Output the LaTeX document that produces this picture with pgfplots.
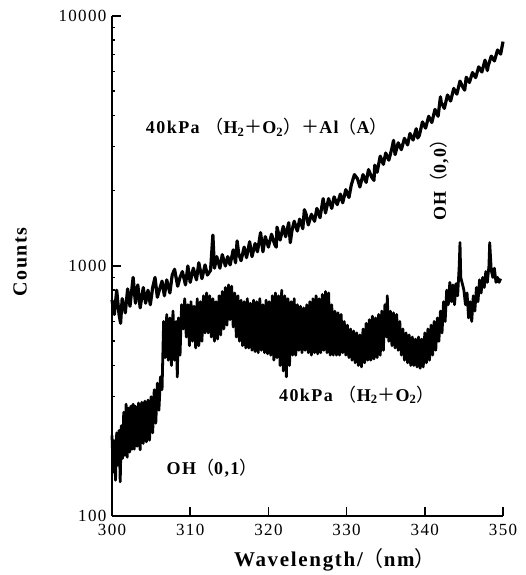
\documentclass[border=0pt]{standalone}
\usepackage{fontspec}
\setmainfont{Liberation Serif}
\newfontfamily\lab[LetterSpace=8]{Liberation Serif}
\newfontfamily\cjk{Noto Sans CJK SC}
\newcommand{\fl}{{\cjk\mdseries （}}
\newcommand{\fr}{{\cjk\mdseries ）}}
\newcommand{\fp}{{\cjk\mdseries ＋}}
\usepackage{pgfplots}
\pgfplotsset{compat=1.18}
\begin{document}
\begin{tikzpicture}[x=1pt,y=1pt]
\useasboundingbox (0,0) rectangle (525,575);
\begin{axis}[
  at={(112pt,59pt)}, anchor=south west,
  scale only axis, width=391pt, height=500pt,
  xmin=300, xmax=350, ymode=log, ymin=100, ymax=10000,
  axis lines*=left, axis line style={line width=1.8pt},
  tick style={line width=1.5pt, black},
  tick align=inside, major tick length=9pt,
  xtick={300,310,...,350}, ytick={100,1000,10000},
  yticklabels={100,1000,10000},
  minor tick num=0, minor ytick={},
  /pgf/number format/assume math mode=true,
  ticklabel style={font=\lab\fontsize{17}{20}\selectfont},
  xticklabel style={yshift=-5pt},
  yticklabel style={xshift=-2pt},
  clip=false,
]
\addplot[black, line width=3.2pt, line join=round] coordinates {
(300.0,731)(300.3,640)(300.6,800)(300.9,640)(301.1,590)(301.3,740)(301.7,650)(302.0,810)(302.3,690)(302.7,900)(303.0,710)
(303.3,840)(303.6,680)(304.0,820)(304.3,710)(304.6,800)(304.9,700)(305.2,820)(305.5,900)(305.8,750)(306.1,810)
(306.4,870)(306.7,760)(307.0,880)(307.4,780)(307.7,920)(308.0,970)(308.4,830)(308.7,900)(309.0,950)(309.4,840)
(309.7,1000)(310.0,860)(310.4,980)(310.8,880)(311.1,1030)(311.5,890)(311.9,1010)(312.2,920)(312.6,960)(312.9,1330)
(313.1,980)(313.4,1090)(313.8,980)(314.1,1110)(314.5,1000)(314.8,1090)(315.1,1010)(315.5,1160)(315.8,1030)(316.0,1260)(316.2,1120)
(316.5,1050)(316.9,1190)(317.2,1080)(317.6,1250)(317.9,1090)(318.3,1230)(318.6,1140)(319.0,1360)(319.3,1140)(319.6,1310)
(320.0,1190)(320.4,1340)(320.8,1220)(321.0,1190)(321.1,1430)(321.5,1270)(321.9,1440)(322.2,1310)(322.6,1490)(322.8,1240)(323.0,1380)(323.3,1510)
(323.7,1380)(324.0,1540)(324.4,1410)(324.6,1680)(324.8,1620)(325.1,1460)(325.5,1610)(325.9,1510)(326.2,1700)(326.6,1560)(327.0,1860)
(327.3,1630)(327.7,1860)(328.1,1700)(328.4,1890)(328.8,1760)(329.2,1940)(329.5,1790)(329.9,2020)(330.3,1880)(330.6,2110)
(331.0,2320)(331.4,2230)(331.7,2070)(332.1,2320)(332.5,2160)(332.8,2430)(333.2,2270)(333.5,2200)(333.6,2530)(333.9,2370)(334.3,2750)
(334.7,2550)(335.0,2830)(335.4,2650)(335.8,2960)(336.0,3180)(336.2,2790)(336.6,3110)(337.0,2920)(337.4,3240)(337.8,3050)(338.1,3390)
(338.5,3190)(338.9,3540)(339.1,3250)(339.3,3330)(339.7,3770)(340.1,3560)(340.5,3970)(340.9,3750)(341.3,4230)(341.7,3970)(342.0,4750)(342.1,4510)
(342.5,4270)(342.9,4830)(343.3,4570)(343.7,5130)(344.1,4870)(344.5,5490)(344.9,5170)(345.1,5050)(345.3,5690)(345.7,5420)(346.1,5940)
(346.5,5670)(346.9,6260)(347.3,5970)(347.7,6660)(348.0,6050)(348.1,6310)(348.5,6910)(348.9,6610)(349.3,7310)(349.7,7040)(350.0,7900)
};
\addplot[black, line width=2.8pt, line join=round] coordinates {
(300.0,210)(300.15,150)(300.3,200)(300.45,139)(300.6,215)(300.75,160)(300.9,220)(301.05,137)(301.2,230)(301.35,170)
(301.5,260)(301.65,175)(301.8,280)(301.95,172)(302.1,270)(302.25,180)(302.4,275)(302.55,185)(302.7,280)(302.85,185)
(303.0,275)(303.2,190)(303.4,283)(303.6,184)(303.8,285)(304.0,195)(304.2,288)(304.4,198)(304.6,291)(304.8,201)
(305.0,300)(305.2,215)(305.4,320)(305.6,235)(305.8,340)(306.0,265)(306.2,360)(306.4,320)(306.6,600)(306.8,430)
(307.0,640)(307.2,420)(307.4,620)(307.6,400)(307.8,660)(308.0,420)(308.2,600)(308.35,360)(308.5,620)(308.7,440)
(308.9,700)(309.1,560)(309.3,740)(309.5,520)(309.7,700)(309.9,480)(310.1,720)(310.3,500)(310.5,690)(310.7,470)
(310.9,740)(311.1,480)(311.3,720)(311.5,500)(311.7,760)(311.9,540)(312.1,780)(312.3,540)(312.5,760)(312.7,520)
(312.9,740)(313.1,500)(313.3,720)(313.5,510)(313.7,760)(313.9,530)(314.1,790)(314.3,560)(314.5,820)(314.7,580)
(314.9,840)(315.1,610)(315.3,830)(315.5,570)(315.7,780)(315.9,520)(316.1,760)(316.3,500)(316.5,730)(316.7,480)
(316.9,720)(317.1,470)(317.3,740)(317.5,470)(317.7,710)(317.9,460)(318.1,730)(318.3,455)(318.5,720)(318.7,450)
(318.9,740)(319.1,460)(319.3,700)(319.5,450)(319.7,730)(319.9,445)(320.1,720)(320.3,440)(320.5,760)(320.7,420)
(320.9,780)(321.1,430)(321.3,760)(321.5,400)(321.7,800)(321.9,380)(322.1,760)(322.3,360)(322.5,740)(322.7,400)
(322.9,720)(323.1,440)(323.3,740)(323.5,440)(323.7,700)(323.9,460)(324.1,690)(324.3,450)(324.5,680)(324.7,460)
(324.9,700)(325.1,450)(325.3,720)(325.5,440)(325.7,740)(325.9,450)(326.1,760)(326.3,445)(326.5,740)(326.7,450)
(326.9,770)(327.1,460)(327.3,790)(327.5,450)(327.7,780)(327.9,440)(328.1,700)(328.3,440)(328.5,660)(328.7,440)
(328.9,650)(329.1,440)(329.3,640)(329.5,450)(329.7,600)(329.9,440)(330.1,580)(330.3,430)(330.5,560)(330.7,420)
(330.9,550)(331.1,410)(331.3,540)(331.5,400)(331.7,530)(331.9,395)(332.1,560)(332.3,410)(332.5,590)(332.7,420)
(332.9,610)(333.1,420)(333.3,630)(333.5,425)(333.7,620)(333.9,430)(334.1,640)(334.3,440)(334.5,660)(334.7,460)
(334.9,700)(335.1,520)(335.2,760)(335.4,500)(335.6,660)(335.8,480)(336.0,650)(336.2,470)(336.4,640)(336.6,460)
(336.8,600)(337.0,440)(337.2,560)(337.4,420)(337.6,540)(337.8,410)(338.0,530)(338.2,400)(338.4,520)(338.6,400)
(338.8,510)(339.0,395)(339.2,520)(339.4,390)(339.6,510)(339.8,395)(340.0,540)(340.2,410)(340.4,560)(340.6,420)
(340.8,580)(341.0,440)(341.2,600)(341.4,460)(341.6,620)(341.8,500)(342.0,660)(342.2,540)(342.4,720)(342.6,600)
(342.8,800)(343.0,700)(343.2,860)(343.4,720)(343.6,840)(343.8,700)(344.0,850)(344.2,760)(344.4,1000)(344.5,1240)
(344.6,900)(344.8,850)(345.0,800)(345.2,700)(345.4,780)(345.6,620)(345.8,720)(346.0,600)(346.2,760)(346.4,660)
(346.6,820)(346.8,720)(347.0,880)(347.2,780)(347.4,900)(347.6,820)(347.8,950)(348.0,860)(348.2,1000)(348.3,1240)
(348.5,960)(348.7,900)(348.9,980)(349.1,860)(349.3,900)(349.5,860)(349.7,890)
};
\node[font=\lab\bfseries\fontsize{18}{18}\selectfont] at (axis cs:319.8,3597) {40kPa \fl H\textsubscript{2}\fp O\textsubscript{2}\fr\fp Al\fl A\fr};
\node[font=\lab\bfseries\fontsize{18}{18}\selectfont] at (axis cs:331.3,305) {40kPa \fl H\textsubscript{2}\fp O\textsubscript{2}\fr};
\node[font=\lab\bfseries\fontsize{18}{18}\selectfont] at (axis cs:312.8,156) {OH\fl 0,1\fr};
\node[font=\lab\bfseries\fontsize{18}{18}\selectfont, rotate=90] at (axis cs:341.9,2300) {OH\fl 0,0\fr};
\node[font=\lab\bfseries\fontsize{20}{20}\selectfont, rotate=90] at (axis description cs:-0.235,0.508) {Counts};
\node[font=\lab\bfseries\fontsize{21}{21}\selectfont] at (axis description cs:0.57,-0.088) {Wavelength/\fl nm\fr};
\end{axis}
\end{tikzpicture}
\end{document}
